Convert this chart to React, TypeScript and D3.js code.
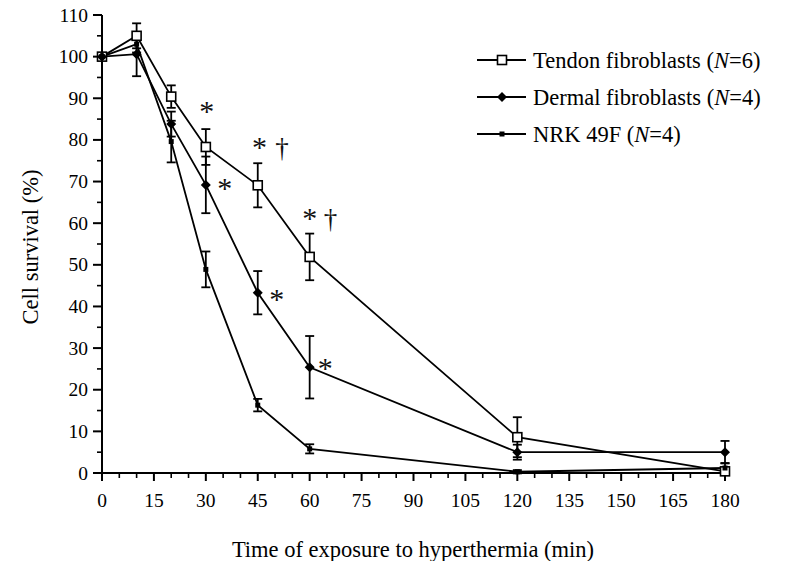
import React from "react";
import * as d3 from "d3";

const times = [0, 10, 20, 30, 45, 60, 120, 180];
const tendonMean = [100, 105, 90.4, 78.3, 69.1, 51.9, 8.6, 0.4];
const tendonErr = [0, 3, 2.7, 4.3, 5.3, 5.6, 4.8, 0.6];
const dermalMean = [100, 100.6, 83.8, 69.2, 43.3, 25.4, 5.0, 5.0];
const dermalErr = [0, 5.3, 3, 6.8, 5.2, 7.5, 1.8, 2.7];
const nrkMean = [100, 103, 79.6, 48.9, 16.3, 5.8, 0.3, 1.2];
const nrkErr = [0, 2, 5, 4.3, 1.5, 1.1, 0.4, 1.2];

const xTicks = [0, 15, 30, 45, 60, 75, 90, 105, 120, 135, 150, 165, 180];
const yTicks = [0, 10, 20, 30, 40, 50, 60, 70, 80, 90, 100, 110];

const seriesNames = ["Tendon fibroblasts", "Dermal fibroblasts", "NRK 49F"];
const seriesN = ["6", "4", "4"];

// significance marks: [time, value, symbol]
const marks: [number, number, string][] = [
  [30.3, 89, "*"],
  [35.5, 70.5, "*"],
  [45.5, 80.5, "*"],
  [52, 78.5, "†"],
  [60, 63.5, "*"],
  [66, 61.5, "†"],
  [50.5, 44, "*"],
  [64.5, 27.5, "*"],
];

const FONT = "'Liberation Serif', 'Times New Roman', serif";

export default function App() {
  const W = 788, H = 561;
  const x = d3.scaleLinear().domain([0, 180]).range([102, 725]);
  const y = d3.scaleLinear().domain([0, 110]).range([473, 15]);
  const line = d3
    .line<[number, number]>()
    .x((d) => x(d[0]))
    .y((d) => y(d[1]));

  const series = [
    { mean: tendonMean, err: tendonErr, marker: "square" },
    { mean: dermalMean, err: dermalErr, marker: "diamond" },
    { mean: nrkMean, err: nrkErr, marker: "small" },
  ];

  const minorX = d3.range(0, 181, 5).filter((v) => v % 15 !== 0);
  const minorY = d3.range(5, 110, 10);

  const drawMarker = (kind: string, cx: number, cy: number, key: string) => {
    if (kind === "square")
      return (
        <rect key={key} x={cx - 4.5} y={cy - 4.5} width={9} height={9} fill="#fff" stroke="#000" strokeWidth={1.6} />
      );
    if (kind === "diamond")
      return (
        <path key={key} d={`M${cx},${cy - 5}L${cx + 5},${cy}L${cx},${cy + 5}L${cx - 5},${cy}Z`} fill="#000" />
      );
    return <rect key={key} x={cx - 2.5} y={cy - 2.5} width={5} height={5} fill="#000" />;
  };

  const legendY = [60, 97, 134];

  return (
    <svg width={W} height={H} style={{ position: "absolute", left: 0, top: 0, background: "#fff" }} fontFamily={FONT}>
      <rect width={W} height={H} fill="#fff" />
      {/* axes */}
      <line x1={x(0)} x2={x(180)} y1={y(0)} y2={y(0)} stroke="#000" strokeWidth={2} />
      <line x1={x(0)} x2={x(0)} y1={y(0)} y2={y(110)} stroke="#000" strokeWidth={2} />
      {xTicks.map((t) => (
        <g key={"xt" + t}>
          <line x1={x(t)} x2={x(t)} y1={y(0)} y2={y(0) + 8} stroke="#000" strokeWidth={2} />
          <text x={x(t)} y={y(0) + 34} fontSize={19.5} textAnchor="middle">{t}</text>
        </g>
      ))}
      {minorX.map((t) => (
        <line key={"xm" + t} x1={x(t)} x2={x(t)} y1={y(0)} y2={y(0) + 5} stroke="#000" strokeWidth={1.6} />
      ))}
      {yTicks.map((t) => (
        <g key={"yt" + t}>
          <line x1={x(0) - 9} x2={x(0)} y1={y(t)} y2={y(t)} stroke="#000" strokeWidth={2} />
          <text x={x(0) - 14} y={y(t) + 6.5} fontSize={19.5} textAnchor="end">{t}</text>
        </g>
      ))}
      {minorY.map((t) => (
        <line key={"ym" + t} x1={x(0) - 5} x2={x(0)} y1={y(t)} y2={y(t)} stroke="#000" strokeWidth={1.6} />
      ))}
      <text x={413} y={557} fontSize={22.5} textAnchor="middle">Time of exposure to hyperthermia (min)</text>
      <text transform={`translate(38,${247}) rotate(-90)`} fontSize={22.5} textAnchor="middle">Cell survival (%)</text>

      {/* series */}
      {series.map((s, si) => {
        const pts = times.map((t, i) => [t, s.mean[i]] as [number, number]);
        return (
          <g key={"s" + si}>
            <path d={line(pts) || ""} fill="none" stroke="#000" strokeWidth={1.8} />
            {times.map((t, i) =>
              s.err[i] > 0 ? (
                <g key={"e" + i} stroke="#000" strokeWidth={1.8}>
                  <line x1={x(t)} x2={x(t)} y1={y(s.mean[i] + s.err[i])} y2={y(s.mean[i] - s.err[i])} />
                  <line x1={x(t) - 4.5} x2={x(t) + 4.5} y1={y(s.mean[i] + s.err[i])} y2={y(s.mean[i] + s.err[i])} />
                  <line x1={x(t) - 4.5} x2={x(t) + 4.5} y1={y(s.mean[i] - s.err[i])} y2={y(s.mean[i] - s.err[i])} />
                </g>
              ) : null
            )}
          </g>
        );
      })}
      {series.map((s, si) => (
        <g key={"m" + si}>{times.map((t, i) => drawMarker(s.marker, x(t), y(s.mean[i]), "mk" + si + "-" + i))}</g>
      ))}

      {marks.map(([t, v, sym], i) => (
        <text
          key={"sig" + i}
          x={x(t)}
          y={y(v) + (sym === "*" ? 19 : 11)}
          fontSize={sym === "*" ? 30 : 27}
          fill="#111"
          textAnchor="middle"
        >
          {sym}
        </text>
      ))}

      {/* legend */}
      {seriesNames.map((name, i) => (
        <g key={"lg" + i}>
          <line x1={477} x2={526} y1={legendY[i]} y2={legendY[i]} stroke="#000" strokeWidth={1.8} />
          {drawMarker(series[i].marker, 502, legendY[i], "lm" + i)}
          <text x={533} y={legendY[i] + 7.5} fontSize={22.5}>
            {name} (<tspan fontStyle="italic">N</tspan>={seriesN[i]})
          </text>
        </g>
      ))}
    </svg>
  );
}
